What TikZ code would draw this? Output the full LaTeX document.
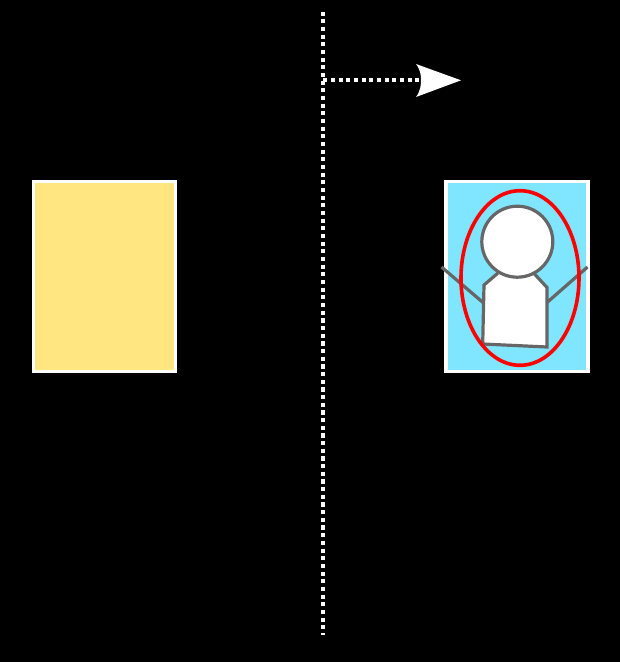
\documentclass[tikz,border=0pt]{standalone}
\definecolor{paneyellow}{HTML}{FFE680}
\definecolor{paneblue}{HTML}{80E5FF}
\definecolor{figgrey}{HTML}{666666}
\tikzset{
  pane/.style={draw=white,line width=3.4pt,outer sep=0pt,inner sep=0pt,minimum height=189.6pt,minimum width=142pt,shape=rectangle},
  figure part/.style={draw=figgrey,line width=3.2pt,fill=white,line join=miter},
  limb/.style={draw=figgrey,line width=3.2pt},
  dotline/.style={draw=white,line width=4.1pt,dash pattern=on 4.1pt off 3.57pt},
}
\begin{document}
\begin{tikzpicture}[x=1pt,y=-1pt]
\useasboundingbox[fill=black] (0,0) rectangle (620,662);
\coordinate (top) at (322.8,11.6);
\coordinate (bottom) at (322.8,635);
\coordinate (branch) at (323.2,80.3);
\coordinate (tip) at (461,80.3);
\coordinate (neck) at (421,80.3);
\draw[dotline] (top) -- (bottom);
\draw[dotline] (branch) -- (neck);
\fill[white] (tip) -- (416,64) .. controls (420.5,70) and (421,75) .. (neck) .. controls (421,85) and (420.5,91) .. (416,97) -- cycle;
\node[pane,fill=paneyellow] (leftpane) at (104.5,276.5) {};
\node[pane,fill=paneblue] (rightpane) at (517,276.5) {};
\draw[limb] (441.5,267) -- (483,302.5);
\draw[limb] (587.5,267) -- (547,302.5);
\fill[white] (498,273) -- (484.2,285) -- (483,344) -- (547,347) -- (547,287.5) -- (534.5,274) -- cycle;
\draw[figure part,fill=none] (498,273) -- (484,285) -- (482.7,344) -- (547,347) -- (547,287.5) -- (534.5,274);
\draw[figure part] (517.3,241.7) circle (35.5);
\draw[red,line width=3.6pt] (520,278) ellipse (59 and 87.3);
\end{tikzpicture}
\end{document}
